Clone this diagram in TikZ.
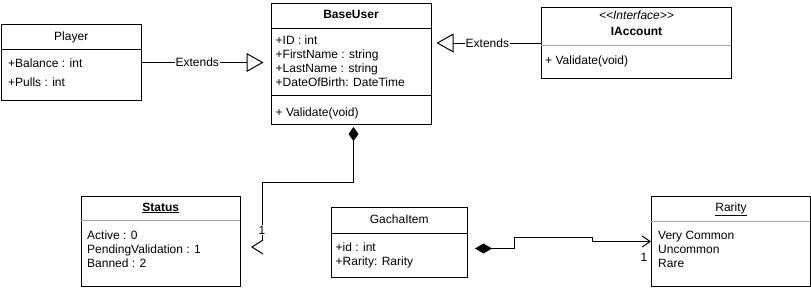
\documentclass[tikz,border=0pt]{standalone}
\usepackage{fontspec}
\setmainfont{Liberation Sans}
\usetikzlibrary{arrows.meta}
\begin{document}
\begin{tikzpicture}[x=1pt,y=-1pt,
  font=\fontsize{12}{14.4}\selectfont,
  classbox/.style={draw, line width=1pt, inner sep=0pt, anchor=north west},
  sep/.style={line width=1pt},
  lightsep/.style={line width=1pt, draw=black!35},
  txt/.style={inner sep=0pt, anchor=base west},
  ttl/.style={inner sep=0pt, anchor=base},
  conn/.style={line width=1pt},
  inherit/.style={conn, -{Triangle[open, length=17pt, width=19pt]}},
  lbl/.style={fill=white, inner sep=1pt},
  mult/.style={inner sep=0.5pt, fill=white}
]
\useasboundingbox (0,0) rectangle (811,287);

% ---------- Player ----------
\node[classbox, minimum width=140.5, minimum height=76] (player) at (0.5,24) {};
\draw[sep] (0.5,49) -- (141,49);
\node[ttl] (playerT) at (player.north |- 0,40) {Player};
\node[txt] (playerA1) at (8,67) {+Balance : int};
\node[txt] (playerA2) at (8,86) {+Pulls : int};

% ---------- BaseUser ----------
\node[classbox, minimum width=160, minimum height=121.5] (baseuser) at (270.5,2.5) {};
\draw[sep] (270.5,28) -- (430.5,28);
\draw[sep] (270.5,95) -- (430.5,95);
\node[ttl] (baseuserT) at (baseuser.north |- 0,18) {\textbf{BaseUser}};
\node[txt] (bu1) at (275.5,44) {+ID : int};
\node[txt] (bu2) at (275.5,58) {+FirstName : string};
\node[txt] (bu3) at (275.5,72) {+LastName : string};
\node[txt] (bu4) at (275.5,86) {+DateOfBirth: DateTime};
\node[txt] (bu5) at (275.5,116) {+ Validate(void)};

% ---------- IAccount ----------
\node[classbox, minimum width=190, minimum height=71] (iaccount) at (541,7) {};
\draw[lightsep] (541,45) -- (731,45);
\node[ttl] (iaccS) at (iaccount.north |- 0,19) {\textit{<{}<Interface>{}>}};
\node[ttl] (iaccT) at (iaccount.north |- 0,35) {\textbf{IAccount}};
\node[txt] (ia1) at (545,64) {+ Validate(void)};

% ---------- Status ----------
\node[classbox, minimum width=159.5, minimum height=90] (status) at (80.5,196) {};
\draw[lightsep] (80.5,220) -- (240,220);
\node[ttl] (statusT) at (status.north |- 0,211) {\underline{\textbf{Status}}};
\node[txt] (st1) at (87,239) {Active : 0};
\node[txt] (st2) at (87,253) {PendingValidation : 1};
\node[txt] (st3) at (87,267) {Banned : 2};

% ---------- GachaItem ----------
\node[classbox, minimum width=136.5, minimum height=70] (gacha) at (330.5,207) {};
\draw[sep] (330.5,233) -- (467,233);
\node[ttl] (gachaT) at (gacha.north |- 0,223) {GachaItem};
\node[txt] (ga1) at (335.5,251) {+id : int};
\node[txt] (ga2) at (335.5,265) {+Rarity: Rarity};

% ---------- Rarity ----------
\node[classbox, minimum width=159, minimum height=90] (rarity) at (651,196) {};
\draw[lightsep] (651,221) -- (810,221);
\node[ttl] (rarityT) at (rarity.north |- 0,211) {\underline{Rarity}};
\node[txt] (ra1) at (658,239) {Very Common};
\node[txt] (ra2) at (658,253) {Uncommon};
\node[txt] (ra3) at (658,267) {Rare};

% ---------- generalisations ----------
\draw[inherit, shorten >=7pt] (player.east) -- (player.east -| baseuser.west)
  node[lbl, pos=0.43] {Extends};
\draw[inherit, shorten >=5pt] (iaccount.west) -- (iaccount.west -| baseuser.east)
  node[lbl, pos=0.49] {Extends};

% ---------- BaseUser composes Status ----------
\coordinate (stEnd) at (262,247);
\draw[conn, {Diamond[length=14pt, width=10pt]}-, shorten <=2pt, shorten >=7pt]
  ([xshift=2.5pt]baseuser.south) -- ++(0,57) -| (stEnd);
\node[mult] (m1) at (262,230) {1};
\draw[conn, line join=miter] ([shift={(1pt,7pt)}]stEnd) -- ([xshift=-10pt]stEnd) -- ([shift={(1pt,-7pt)}]stEnd);

% ---------- GachaItem composes Rarity ----------
\draw[conn, {Diamond[length=17pt, width=10pt]}-{Straight Barb[length=8pt, width=11pt]}, shorten <=7pt]
  ([yshift=-6pt]gacha.east) -- ++(46,0) |- ++(78,-11) |- (rarity.west);
\node[mult] (m2) at (644,257) {1};
\end{tikzpicture}
\end{document}
